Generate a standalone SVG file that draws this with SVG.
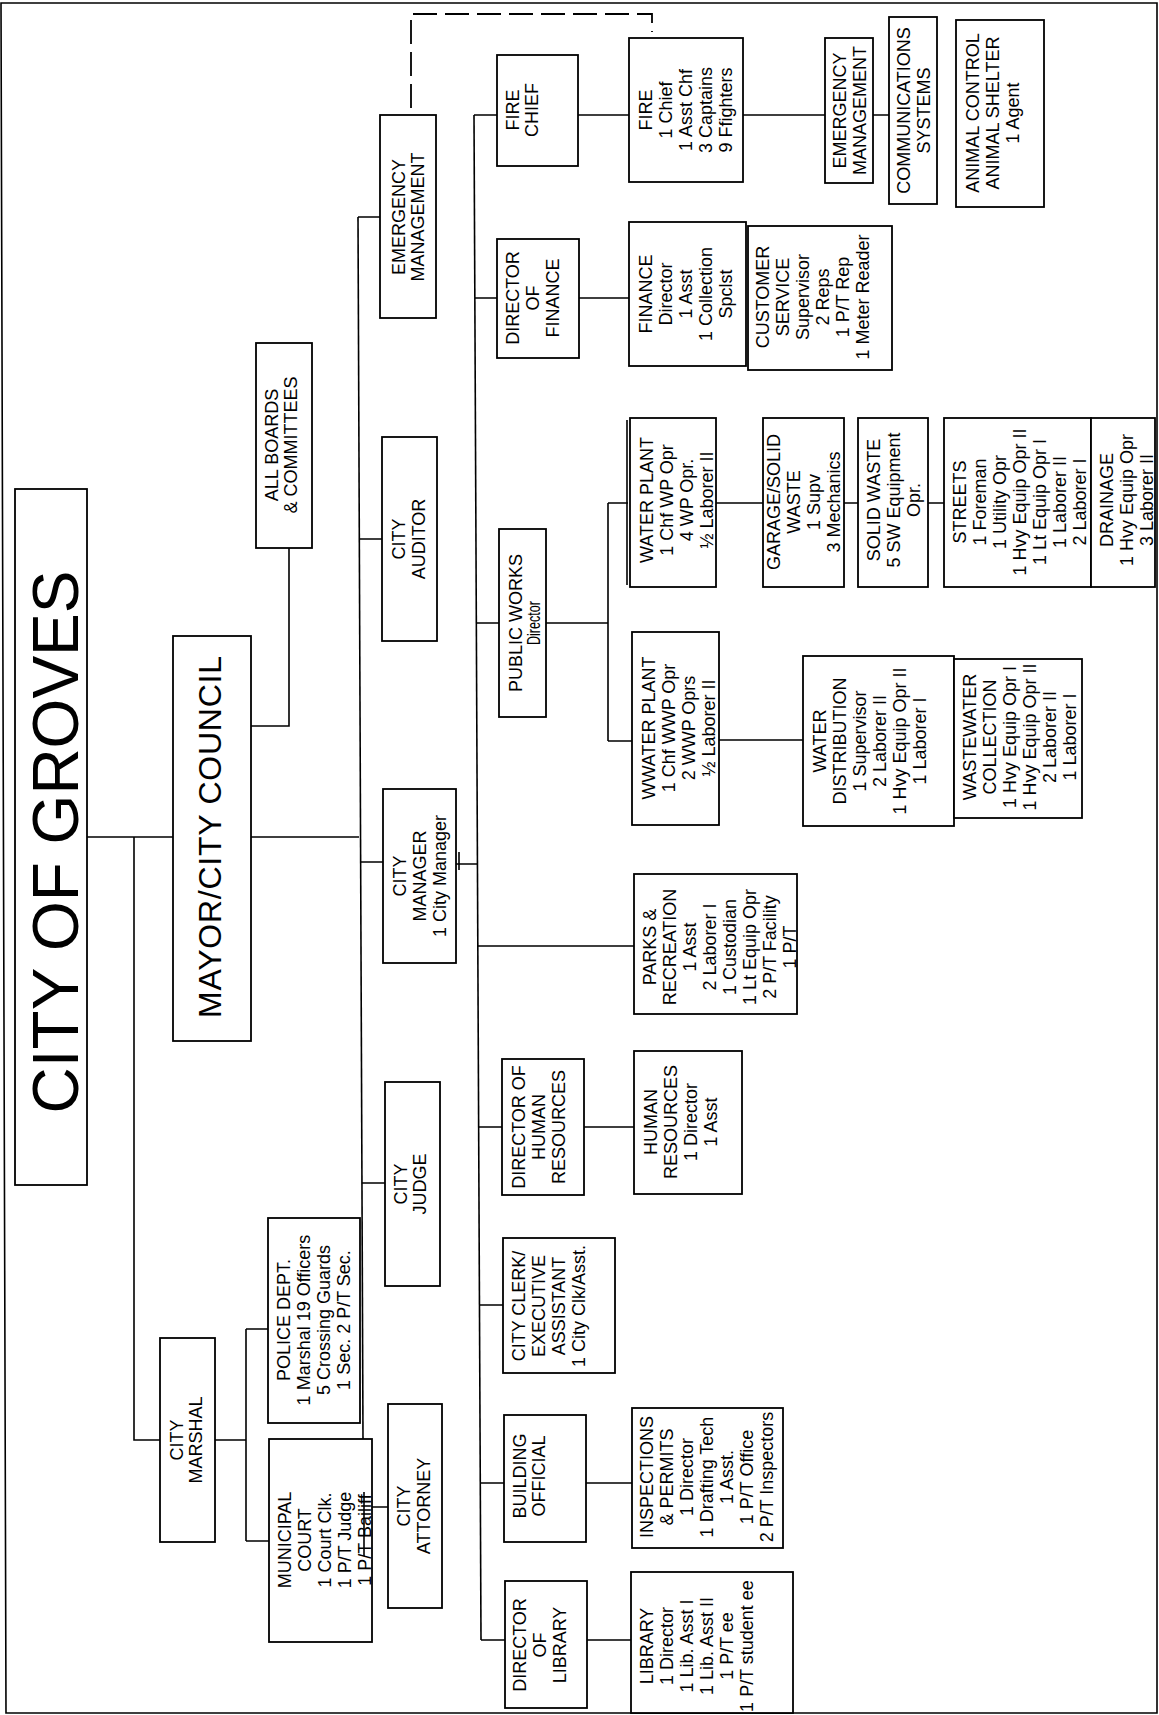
<svg xmlns="http://www.w3.org/2000/svg" width="1159" height="1715" viewBox="0 0 1159 1715">
<style>
.box{fill:#fff;stroke:#000;stroke-width:1.8}
.ln{fill:none;stroke:#000;stroke-width:1.6}
.dash{fill:none;stroke:#000;stroke-width:1.8;stroke-dasharray:24 8}
.t{font-family:"Liberation Sans",Arial,sans-serif;font-size:18px;text-anchor:middle;fill:#000}
</style>
<rect width="1159" height="1715" fill="#fff"/>
<path class="ln" d="M1,3 H1157 V1713 H6 Z"/>
<g id="connectors">
<path class="ln" d="M87,837 H173 M251,837 H359"/>
<path class="ln" d="M289,548 V726 H251"/>
<path class="ln" d="M134,837 V1440 H160 M215,1440 H246 M246,1329 V1541 M246,1329 H268 M246,1541 H269"/>
<path class="ln" d="M358,217 L363,1439"/>
<path class="ln" d="M358,217 H380 M359,539 H382 M360,862 H383 M362,1183 H385 M372,1507 H388"/>
<path class="ln" d="M456,864 H477 M459,852 V870"/>
<path class="ln" d="M474,115 L481,1640"/>
<path class="ln" d="M474,115 H497 M578,115 H629 M743,115 H825 M873,115 H889"/>
<path class="ln" d="M475,298 H497 M579,298 H629"/>
<path class="ln" d="M476,623 H499 M546,623 H608 M608,503 V741 M608,503 H628 M608,741 H632"/>
<path class="ln" d="M716,503 H763 M844,503 H858 M928,503 H944 M719,740 H803"/>
<path class="ln" d="M477,946 H634 M478,1127 H502 M584,1127 H634 M480,1305 H503"/>
<path class="ln" d="M480,1483 H504 M586,1483 H632 M481,1640 H505 M587,1640 H631"/>
<path class="dash" d="M411,108 V14 H652 V32"/>
</g>
<g id="title"><rect class="box" x="15" y="489" width="72" height="696"/>
<text class="t" style="font-size:64px" transform="translate(78,842) rotate(-90)">CITY OF GROVES</text></g>
<g id="mayor"><rect class="box" x="173" y="636" width="78" height="405"/>
<text class="t" style="font-size:32px" textLength="362" lengthAdjust="spacing" transform="translate(221,837) rotate(-90)">MAYOR/CITY COUNCIL</text></g>
<g id="boards"><rect class="box" x="256" y="343" width="56" height="205"/>
<text class="t" transform="translate(278,445) rotate(-90)"><tspan x="0" y="0">ALL BOARDS</tspan><tspan x="0" dy="19">&amp; COMMITTEES</tspan></text></g>
<g id="em1"><rect class="box" x="380" y="115" width="56" height="203"/>
<text class="t" transform="translate(405,217) rotate(-90)"><tspan x="0" y="0">EMERGENCY</tspan><tspan x="0" dy="19">MANAGEMENT</tspan></text></g>
<g id="auditor"><rect class="box" x="382" y="437" width="55" height="204"/>
<text class="t" transform="translate(405,539) rotate(-90)"><tspan x="0" y="0">CITY</tspan><tspan x="0" dy="20">AUDITOR</tspan></text></g>
<g id="manager"><rect class="box" x="383" y="789" width="73" height="174"/>
<text class="t" transform="translate(406,876) rotate(-90)"><tspan x="0" y="0">CITY</tspan><tspan x="0" dy="20">MANAGER</tspan><tspan x="0" dy="20">1 City Manager</tspan></text></g>
<g id="judge"><rect class="box" x="385" y="1082" width="55" height="204"/>
<text class="t" transform="translate(407,1184) rotate(-90)"><tspan x="0" y="0">CITY</tspan><tspan x="0" dy="19">JUDGE</tspan></text></g>
<g id="attorney"><rect class="box" x="388" y="1404" width="54" height="204"/>
<text class="t" transform="translate(410,1506) rotate(-90)"><tspan x="0" y="0">CITY</tspan><tspan x="0" dy="20">ATTORNEY</tspan></text></g>
<g id="marshal"><rect class="box" x="160" y="1338" width="55" height="204"/>
<text class="t" transform="translate(183,1440) rotate(-90)"><tspan x="0" y="0">CITY</tspan><tspan x="0" dy="19">MARSHAL</tspan></text></g>
<g id="police"><rect class="box" x="268" y="1218" width="92" height="205"/>
<text class="t" transform="translate(290,1320) rotate(-90)"><tspan x="0" y="0">POLICE DEPT.</tspan><tspan x="0" dy="20">1 Marshal 19 Officers</tspan><tspan x="0" dy="20">5 Crossing Guards</tspan><tspan x="0" dy="20">1 Sec. 2 P/T Sec.</tspan></text></g>
<g id="court"><rect class="box" x="269" y="1439" width="103" height="203"/>
<text class="t" transform="translate(291,1540) rotate(-90)"><tspan x="0" y="0">MUNICIPAL</tspan><tspan x="0" dy="20">COURT</tspan><tspan x="0" dy="20">1 Court Clk.</tspan><tspan x="0" dy="20">1 P/T Judge</tspan><tspan x="0" dy="20">1 P/T Bailiff</tspan></text>
<path class="ln" d="M364,1492 V1556"/></g>
<g id="firechief"><rect class="box" x="497" y="55" width="81" height="111"/>
<text class="t" transform="translate(519,110) rotate(-90)"><tspan x="0" y="0">FIRE</tspan><tspan x="0" dy="19">CHIEF</tspan></text></g>
<g id="fire"><rect class="box" x="629" y="38" width="114" height="144"/>
<text class="t" transform="translate(652,110) rotate(-90)"><tspan x="0" y="0">FIRE</tspan><tspan x="0" dy="20">1 Chief</tspan><tspan x="0" dy="20">1 Asst Chf</tspan><tspan x="0" dy="20">3 Captains</tspan><tspan x="0" dy="20">9 Ffighters</tspan></text></g>
<g id="em2"><rect class="box" x="825" y="38" width="48" height="145"/>
<text class="t" transform="translate(846,110.5) rotate(-90)"><tspan x="0" y="0">EMERGENCY</tspan><tspan x="0" dy="20">MANAGEMENT</tspan></text></g>
<g id="comms"><rect class="box" x="889" y="17" width="48" height="187"/>
<text class="t" transform="translate(910,110.5) rotate(-90)"><tspan x="0" y="0">COMMUNICATIONS</tspan><tspan x="0" dy="20">SYSTEMS</tspan></text></g>
<g id="animal"><rect class="box" x="956" y="20" width="88" height="187"/>
<text class="t" transform="translate(979,113) rotate(-90)"><tspan x="0" y="0">ANIMAL CONTROL</tspan><tspan x="0" dy="20">ANIMAL SHELTER</tspan><tspan x="0" dy="20">1 Agent</tspan></text></g>
<g id="findir"><rect class="box" x="497" y="239" width="82" height="119"/>
<text class="t" transform="translate(519,298) rotate(-90)"><tspan x="0" y="0">DIRECTOR</tspan><tspan x="0" dy="20">OF</tspan><tspan x="0" dy="20">FINANCE</tspan></text></g>
<g id="finance"><rect class="box" x="629" y="222" width="117" height="144"/>
<text class="t" transform="translate(652,294) rotate(-90)"><tspan x="0" y="0">FINANCE</tspan><tspan x="0" dy="20">Director</tspan><tspan x="0" dy="20">1 Asst</tspan><tspan x="0" dy="20">1 Collection</tspan><tspan x="0" dy="20">Spclst</tspan></text></g>
<g id="customer"><rect class="box" x="748" y="226" width="144" height="144"/>
<text class="t" transform="translate(769,297) rotate(-90)"><tspan x="0" y="0">CUSTOMER</tspan><tspan x="0" dy="20">SERVICE</tspan><tspan x="0" dy="20">Supervisor</tspan><tspan x="0" dy="20">2 Reps</tspan><tspan x="0" dy="20">1 P/T Rep</tspan><tspan x="0" dy="20">1 Meter Reader</tspan></text></g>
<g id="publicworks"><rect class="box" x="499" y="529" width="47" height="188"/>
<text class="t" transform="translate(522,623) rotate(-90)"><tspan x="0" y="0">PUBLIC WORKS</tspan><tspan x="0" dy="18" textLength="44" lengthAdjust="spacingAndGlyphs">Director</tspan></text></g>
<g id="waterplant"><rect class="box" x="630" y="418" width="86" height="169"/><path class="ln" d="M627,420 V585"/>
<text class="t" transform="translate(653,500) rotate(-90)"><tspan x="0" y="0">WATER PLANT</tspan><tspan x="0" dy="20">1 Chf WP Opr</tspan><tspan x="0" dy="20">4 WP Opr.</tspan><tspan x="0" dy="20">½ Laborer II</tspan></text></g>
<g id="wwaterplant"><rect class="box" x="632" y="632" width="87" height="193"/>
<text class="t" transform="translate(655,728) rotate(-90)"><tspan x="0" y="0">WWATER PLANT</tspan><tspan x="0" dy="20">1 Chf WWP Opr</tspan><tspan x="0" dy="20">2 WWP Oprs</tspan><tspan x="0" dy="20">½ Laborer II</tspan></text></g>
<g id="garage"><rect class="box" x="763" y="418" width="81" height="169"/>
<text class="t" transform="translate(780,502) rotate(-90)"><tspan x="0" y="0">GARAGE/SOLID</tspan><tspan x="0" dy="20">WASTE</tspan><tspan x="0" dy="20">1 Supv</tspan><tspan x="0" dy="20">3 Mechanics</tspan></text></g>
<g id="solidwaste"><rect class="box" x="858" y="418" width="70" height="169"/>
<text class="t" transform="translate(880,500) rotate(-90)"><tspan x="0" y="0">SOLID WASTE</tspan><tspan x="0" dy="20">5 SW Equipment</tspan><tspan x="0" dy="20">Opr.</tspan></text></g>
<g id="streets"><rect class="box" x="944" y="418" width="147" height="169"/>
<text class="t" transform="translate(966,502) rotate(-90)"><tspan x="0" y="0">STREETS</tspan><tspan x="0" dy="20">1 Foreman</tspan><tspan x="0" dy="20">1 Utility Opr</tspan><tspan x="0" dy="20">1 Hvy Equip Opr II</tspan><tspan x="0" dy="20">1 Lt Equip Opr I</tspan><tspan x="0" dy="20">1 Laborer II</tspan><tspan x="0" dy="20">2 Laborer I</tspan></text></g>
<g id="drainage"><rect class="box" x="1091" y="418" width="64" height="169"/>
<text class="t" transform="translate(1113,500) rotate(-90)"><tspan x="0" y="0">DRAINAGE</tspan><tspan x="0" dy="20">1 Hvy Equip Opr</tspan><tspan x="0" dy="20">3 Laborer II</tspan></text></g>
<g id="waterdist"><rect class="box" x="803" y="656" width="151" height="170"/>
<text class="t" transform="translate(826,741) rotate(-90)"><tspan x="0" y="0">WATER</tspan><tspan x="0" dy="20">DISTRIBUTION</tspan><tspan x="0" dy="20">1 Supervisor</tspan><tspan x="0" dy="20">2 Laborer II</tspan><tspan x="0" dy="20">1 Hvy Equip Opr II</tspan><tspan x="0" dy="20">1 Laborer I</tspan></text></g>
<g id="wastewater"><rect class="box" x="954" y="659" width="128" height="159"/>
<text class="t" transform="translate(976,737) rotate(-90)"><tspan x="0" y="0">WASTEWATER</tspan><tspan x="0" dy="20">COLLECTION</tspan><tspan x="0" dy="20">1 Hvy Equip Opr I</tspan><tspan x="0" dy="20">1 Hvy Equip Opr II</tspan><tspan x="0" dy="20">2 Laborer II</tspan><tspan x="0" dy="20">1 Laborer I</tspan></text></g>
<g id="parks"><rect class="box" x="634" y="874" width="163" height="140"/>
<text class="t" transform="translate(656,947) rotate(-90)"><tspan x="0" y="0">PARKS &amp;</tspan><tspan x="0" dy="20">RECREATION</tspan><tspan x="0" dy="20">1 Asst</tspan><tspan x="0" dy="20">2 Laborer I</tspan><tspan x="0" dy="20">1 Custodian</tspan><tspan x="0" dy="20">1 Lt Equip Opr</tspan><tspan x="0" dy="20">2 P/T Facility</tspan><tspan x="0" dy="20">1 P/T</tspan></text></g>
<g id="hrdir"><rect class="box" x="502" y="1059" width="82" height="136"/>
<text class="t" transform="translate(525,1127) rotate(-90)"><tspan x="0" y="0">DIRECTOR OF</tspan><tspan x="0" dy="20">HUMAN</tspan><tspan x="0" dy="20">RESOURCES</tspan></text></g>
<g id="hr"><rect class="box" x="634" y="1051" width="108" height="143"/>
<text class="t" transform="translate(657,1122) rotate(-90)"><tspan x="0" y="0">HUMAN</tspan><tspan x="0" dy="20">RESOURCES</tspan><tspan x="0" dy="20">1 Director</tspan><tspan x="0" dy="20">1 Asst</tspan></text></g>
<g id="clerk"><rect class="box" x="503" y="1238" width="112" height="135"/>
<text class="t" transform="translate(525,1306) rotate(-90)"><tspan x="0" y="0">CITY CLERK/</tspan><tspan x="0" dy="20">EXECUTIVE</tspan><tspan x="0" dy="20">ASSISTANT</tspan><tspan x="0" dy="20">1 City Clk/Asst.</tspan></text></g>
<g id="building"><rect class="box" x="504" y="1415" width="82" height="127"/>
<text class="t" transform="translate(526,1476) rotate(-90)"><tspan x="0" y="0">BUILDING</tspan><tspan x="0" dy="19">OFFICIAL</tspan></text></g>
<g id="inspections"><rect class="box" x="632" y="1408" width="151" height="140"/>
<text class="t" transform="translate(653,1477) rotate(-90)"><tspan x="0" y="0">INSPECTIONS</tspan><tspan x="0" dy="20">&amp; PERMITS</tspan><tspan x="0" dy="20">1 Director</tspan><tspan x="0" dy="20">1 Drafting Tech</tspan><tspan x="0" dy="20">1 Asst.</tspan><tspan x="0" dy="20">1 P/T Office</tspan><tspan x="0" dy="20">2 P/T Inspectors</tspan></text></g>
<g id="librarydir"><rect class="box" x="505" y="1581" width="82" height="127"/>
<text class="t" transform="translate(526,1645) rotate(-90)"><tspan x="0" y="0">DIRECTOR</tspan><tspan x="0" dy="20">OF</tspan><tspan x="0" dy="20">LIBRARY</tspan></text></g>
<g id="library"><rect class="box" x="631" y="1572" width="162" height="141"/>
<text class="t" transform="translate(653,1646) rotate(-90)"><tspan x="0" y="0">LIBRARY</tspan><tspan x="0" dy="20">1 Director</tspan><tspan x="0" dy="20">1 Lib. Asst I</tspan><tspan x="0" dy="20">1 Lib. Asst II</tspan><tspan x="0" dy="20">1 P/T ee</tspan><tspan x="0" dy="20">1 P/T student ee</tspan></text></g>
</svg>
